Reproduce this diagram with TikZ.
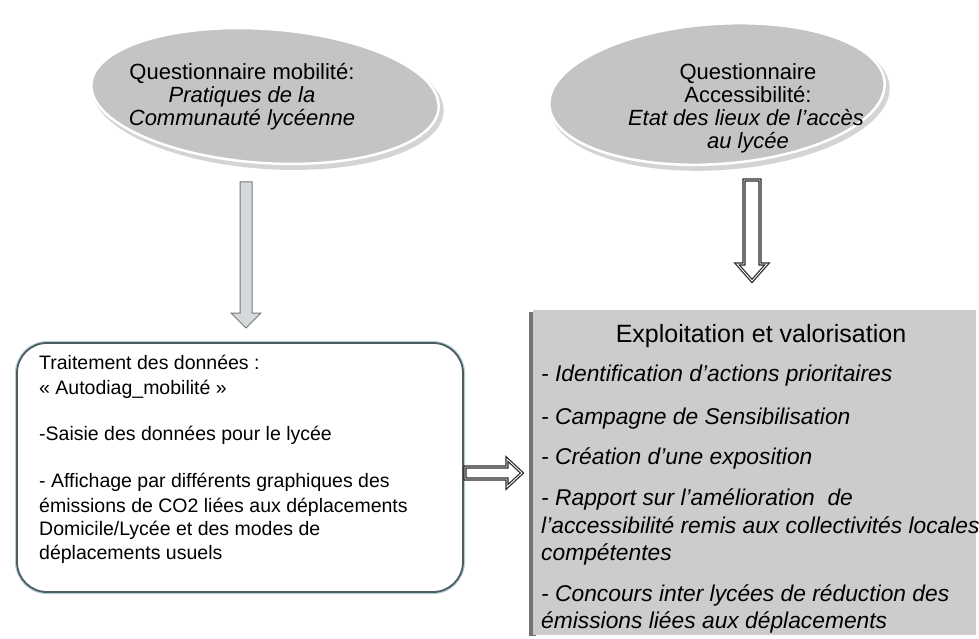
\documentclass[tikz,border=0pt]{standalone}
\usepackage{fontspec}
\setmainfont{Liberation Sans}
\usetikzlibrary{shapes.geometric,calc}
\definecolor{ellfill}{RGB}{196,196,196}
\definecolor{ellshadow}{RGB}{160,160,160}
\definecolor{boxfill}{RGB}{204,204,204}
\definecolor{boxedge}{RGB}{78,92,98}
\definecolor{boxglow}{RGB}{178,208,216}
\definecolor{arrfill}{RGB}{212,218,220}
\definecolor{arredge}{RGB}{120,120,120}
\newcommand{\blockdown}[6]{%
  \path[#1] ($(#2)+(-#4,0)$) -- ($(#3)+(-#4,-#6)$) -- ($(#3)+(-#5,-#6)$) -- (#3)
    -- ($(#3)+(#5,-#6)$) -- ($(#3)+(#4,-#6)$) -- ($(#2)+(#4,0)$) -- cycle;}
\newcommand{\blockright}[6]{%
  \path[#1] ($(#2)+(0,-#4)$) -- ($(#3)+(-#6,-#4)$) -- ($(#3)+(-#6,-#5)$) -- (#3)
    -- ($(#3)+(-#6,#5)$) -- ($(#3)+(-#6,#4)$) -- ($(#2)+(0,#4)$) -- cycle;}
\begin{document}
\begin{tikzpicture}[x=1pt,y=-1pt,
  ellshade/.style={fill=ellshadow, opacity=0.45},
  ellmain/.style={fill=ellfill, draw=white, line width=2.5pt},
  etext/.style={anchor=base, inner sep=0, font=\fontsize{22}{24}\selectfont},
  ltext/.style={anchor=base west, inner sep=0, font=\fontsize{19.5}{24}\selectfont},
  rtext/.style={anchor=base west, inner sep=0, font=\fontsize{22.8}{27}\selectfont\itshape},
  rtitle/.style={anchor=base, inner sep=0, font=\fontsize{25}{30}\selectfont},
  grayarrow/.style={fill=arrfill, draw=arredge, line width=1pt, line join=miter},
  dblarrow/.style={fill=white, draw=black!85, line width=1.2pt, double=white, double distance=0.9pt, line join=miter}]
\useasboundingbox (0,0) rectangle (979,639);
\fill[white] (0,0) rectangle (979,639);

% ellipses
\coordinate (e1) at (265,96);
\coordinate (e1s) at (268,100);
\coordinate (e2) at (717,94);
\coordinate (e2s) at (720,98);
\path[ellshade, rotate around={-4:(e1s)}] (e1s) ellipse [x radius=176, y radius=69];
\path[ellmain, rotate around={-4:(e1)}] (e1) ellipse [x radius=174, y radius=67];
\path[ellshade, rotate around={4:(e2s)}] (e2s) ellipse [x radius=170, y radius=72];
\path[ellmain, rotate around={4:(e2)}] (e2) ellipse [x radius=168, y radius=70];

\node[etext] (t1a) at (242,80) {Questionnaire mobilité:};
\node[etext] (t1b) at (242,103) {\itshape Pratiques de la};
\node[etext] (t1c) at (242,126) {\itshape Communauté lycéenne};

\node[etext] (t2a) at (748,80) {Questionnaire};
\node[etext] (t2b) at (748,103) {Accessibilité:};
\node[etext] (t2c) at (746,126) {\itshape Etat des lieux de l'accès};
\node[etext] (t2d) at (748,149) {\itshape au lycée};

% left box
\draw[boxglow, line width=4pt, rounded corners=30pt] (17,343) rectangle (463,592);
\draw[boxedge, line width=1.8pt, fill=white, rounded corners=30pt] (17,343) rectangle (463,592);
\node[ltext] (l1) at (39,369) {Traitement des données :};
\node[ltext] (l2) at (39,394) {« Autodiag\_mobilité »};
\node[ltext] (l3) at (39,440) {-Saisie des données pour le lycée};
\node[ltext] (l4) at (39,487) {- Affichage par différents graphiques des};
\node[ltext] (l5) at (39,512) {émissions de CO2 liées aux déplacements};
\node[ltext] (l6) at (39,535) {Domicile/Lycée et des modes de};
\node[ltext] (l7) at (39,559) {déplacements usuels};

% right box
\fill[black!55] (529,312) rectangle (536,636);
\fill[boxfill] (533,310) rectangle (976,635);
\node[rtitle] (r0) at (761,342) {Exploitation et valorisation};
\node[rtext] (r1) at (541,381) {- Identification d'actions prioritaires};
\node[rtext] (r2) at (541,424) {- Campagne de Sensibilisation};
\node[rtext] (r3) at (541,464) {- Création d'une exposition};
\node[rtext] (r4) at (541,505) {- Rapport sur l'amélioration \ de};
\node[rtext] (r5) at (541,533) {l'accessibilité remis aux collectivités locales};
\node[rtext] (r6) at (541,560) {compétentes};
\node[rtext] (r7) at (541,601) {- Concours inter lycées de réduction des};
\node[rtext] (r8) at (541,628) {émissions liées aux déplacements};

% arrows
\coordinate (a1s) at (246,182);
\coordinate (a1e) at (246,328);
\blockdown{grayarrow}{a1s}{a1e}{6}{15}{15}
\coordinate (a2s) at (752,180);
\coordinate (a2e) at (752,281);
\blockdown{dblarrow}{a2s}{a2e}{8}{15}{17}
\coordinate (a3s) at (465,473);
\coordinate (a3e) at (522,473);
\blockright{dblarrow}{a3s}{a3e}{6}{14}{15}
\end{tikzpicture}
\end{document}
